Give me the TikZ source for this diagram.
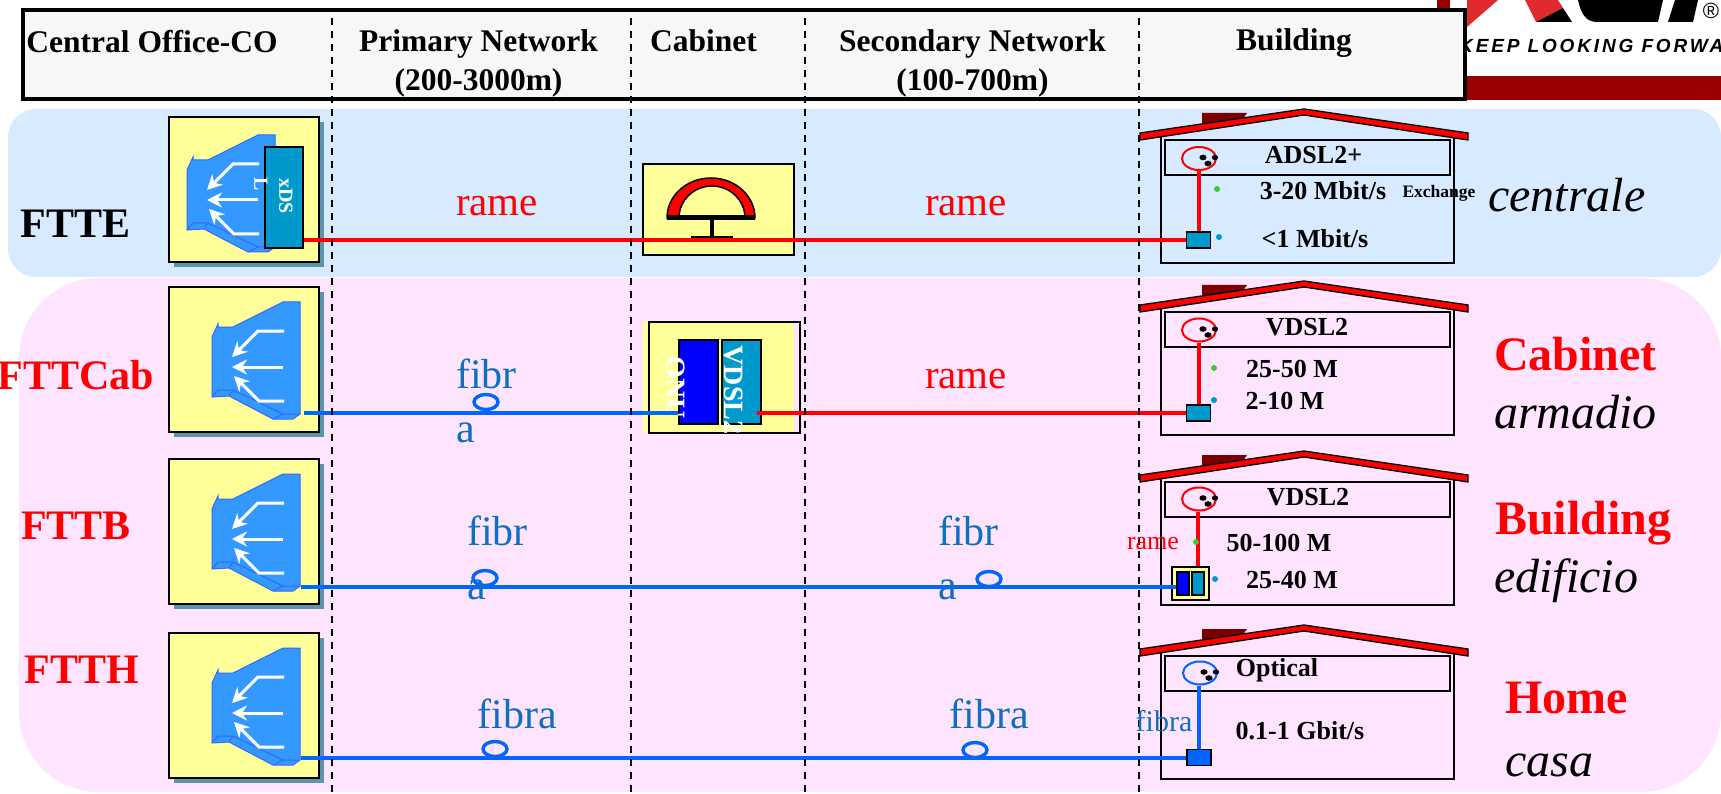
\documentclass[tikz,border=0pt]{standalone}
\usepackage{fontspec}
\setmainfont{Liberation Serif}
\newfontfamily\logofont[LetterSpace=15]{Liberation Sans}
\usetikzlibrary{shapes.geometric, shadows, arrows.meta}

\definecolor{bandblue}{HTML}{D8EAFF}
\definecolor{bandpink}{HTML}{FEE4FF}
\definecolor{boxyellow}{HTML}{FFFF99}
\definecolor{funnelblue}{HTML}{3399FF}
\definecolor{funneledge}{HTML}{3366FF}
\definecolor{teal2}{HTML}{0099CC}
\definecolor{shadowteal}{HTML}{5B94AC}
\definecolor{fibreline}{HTML}{0066FF}
\definecolor{fibretext}{HTML}{0F70C0}
\definecolor{logored}{HTML}{990000}
\definecolor{logobright}{HTML}{E02A2E}
\definecolor{roofred}{HTML}{7A0000}
\definecolor{dotgreen}{HTML}{33CC33}

\tikzset{
    headtext/.style={font=\bfseries\fontsize{31.5}{39}\selectfont, align=center, inner sep=0pt},
    rowlabel/.style={font=\bfseries\fontsize{42}{42}\selectfont, red, inner sep=0pt},
    placered/.style={font=\bfseries\fontsize{48}{48}\selectfont, red, inner sep=0pt, anchor=west},
    placeit/.style={font=\itshape\fontsize{48}{48}\selectfont, inner sep=0pt, anchor=west},
    rate/.style={font=\bfseries\fontsize{26}{26}\selectfont, inner sep=0pt},
    coppertext/.style={font=\fontsize{41}{41}\selectfont, red, inner sep=0pt},
    fibrtext/.style={font=\fontsize{42}{54}\selectfont, fibretext, inner sep=0pt, align=left},
    copper/.style={red, line width=4pt},
    fibre/.style={fibreline, line width=4pt},
    loopring/.style={ellipse, draw=fibreline, line width=3.4pt, minimum width=24pt, minimum height=15pt, inner sep=0pt},
    cobox/.style={draw=black, line width=2pt, fill=boxyellow, minimum width=150pt, minimum height=145pt, inner sep=0pt,
        drop shadow={shadow xshift=5pt, shadow yshift=-5pt, fill=shadowteal, opacity=1}},
    modem/.style={draw=black, line width=2.2pt, minimum width=39pt, minimum height=84pt, inner sep=0pt},
    port/.style={draw=black, line width=1.5pt, minimum width=24pt, minimum height=16pt, inner sep=0pt},
    minibox/.style={draw=black, line width=2.4pt, minimum width=12pt, minimum height=23pt, inner sep=0pt},
    dotmark/.style={circle, minimum size=6pt, inner sep=0pt},
    boundary/.style={black, line width=2pt, dash pattern=on 7pt off 6pt},
    whitearrow/.style={white, line width=3pt, -{Stealth[length=15pt, width=15pt, inset=5pt]}},
    funnel/.pic={
        \draw[funneledge, fill=funnelblue, line width=1pt] (6,22) -- (6,25) -- (21,25) -- (71,0) -- (88,0) -- (88,112)
            -- (81,117) -- (61,117) -- (17,94) -- (0,95) -- (0,35) -- cycle;
        \draw[funneledge, line width=1pt] (0,95) -- (6,88) -- (21,88) -- (71,112) -- (88,112);
        \draw[funneledge, line width=1pt] (17,94) -- (21,88);
        \draw[funneledge, line width=1pt] (61,117) -- (71,112);
        \draw[whitearrow] (72,29) -- (46,29) -- (20,55);
        \draw[whitearrow] (71,65) -- (20,65);
        \draw[whitearrow] (72,99) -- (47,99) -- (22,74);
    },
    house/.pic={
        \fill[roofred] (1202,113) -- (1247,113) -- (1242,120) -- (1202,127) -- cycle;
        \draw[black, line width=1.5pt] (1161,131) -- (1161,263) -- (1454,263) -- (1454,131);
        \draw[black, fill=red, line width=1.3pt] (1140,133) -- (1304,109) -- (1468,133) -- (1468,140) -- (1304,115) -- (1140,140) -- cycle;
        \node[draw=black, line width=1.5pt, minimum width=285pt, minimum height=35pt, inner sep=0pt] (-label) at (1307.5,157.5) {};
    },
    jack/.pic={
        \node[ellipse, draw=#1, line width=2pt, minimum width=34pt, minimum height=23pt, inner sep=0pt] (-ring) at (0,0) {};
        \fill[black] (4,-1) ellipse (3.6 and 2.8);
        \fill[black] (16,-1) ellipse (3.2 and 2.6);
        \fill[black] (9,5) ellipse (3.6 and 2.8);
    },
}

\begin{document}
\begin{tikzpicture}[x=1pt, y=-1pt]
    \useasboundingbox (0,0) rectangle (1721,794);
    \fill[white] (0,0) rectangle (1721,794);

    % Logo behind the header
    \fill[logored] (1437,0) rectangle (1450,12);
    \fill[logored] (1466,76) rectangle (1721,100);
    \fill[logobright] (1467,27) -- (1467,0) -- (1498,0) -- cycle;
    \fill[logobright] (1525,0) -- (1536,22) -- (1563,8) -- (1558,0) -- cycle;
    \fill[black] (1536,22) -- (1563,8) -- (1572,22) -- cycle;
    \fill[black] (1578,0) .. controls (1581,14) and (1586,22) .. (1597,22) -- (1658,22) -- (1663,0) -- cycle;
    \fill[black] (1668,22) -- (1693,22) -- (1698,0) -- (1675,0) -- cycle;
    \node[font=\logofont\fontsize{22}{22}\selectfont, inner sep=0pt] (regmark) at (1711,11) {®};
    \node[font=\logofont\bfseries\itshape\fontsize{19}{19}\selectfont, inner sep=0pt, anchor=west] (slogan) at (1459,46) {KEEP LOOKING FORWA};

    % Bands
    \fill[bandblue, rounded corners=28pt] (8,109) rectangle (1721,277);
    \fill[bandpink, rounded corners=80pt] (19,278) rectangle (1721,792);

    % Header
    \node[draw=black, fill=black!3, line width=4pt, minimum width=1442pt, minimum height=89pt, inner sep=0pt] (header) at (744,54.5) {};
    \node[headtext] (hco) at (152,42) {Central Office-CO};
    \node[headtext, anchor=north] (hprim) at (478.5,29) {Primary Network\\(200-3000m)};
    \node[headtext] (hcab) at (703.5,41) {Cabinet};
    \node[headtext, anchor=north] (hsec) at (972.5,29) {Secondary Network\\(100-700m)};
    \node[headtext] (hbuild) at (1294,43) {Building};

    % Central office boxes
    \node[cobox] (co1) at (243.6,190) {};
    \node[cobox] (co2) at (243.6,359.5) {};
    \node[cobox] (co3) at (243.6,531.5) {};
    \node[cobox] (co4) at (243.6,705.5) {};
    \pic at (187,135) {funnel};
    \pic at (212,302) {funnel};
    \pic at (212,474) {funnel};
    \pic at (212,648) {funnel};

    \node[modem, fill=teal2, minimum width=38pt, minimum height=101pt] (xdsbox) at (284,197.5) {};
    \node[font=\bfseries\fontsize{20}{20}\selectfont, white, rotate=-90, inner sep=0pt] (xdstext) at (286,196) {xDS};
    \node[font=\bfseries\fontsize{20}{20}\selectfont, white, rotate=-90, inner sep=0pt] (ltext) at (261,184) {L};

    % Cabinets
    \fill[boxyellow] (643,322) rectangle (794,433);
    \node[draw=black, line width=1.5pt, minimum width=151pt, minimum height=111pt, inner sep=0pt] (cab2) at (724.5,377.5) {};
    \node[draw=black, fill=boxyellow, line width=1.5pt, minimum width=151pt, minimum height=91pt, inner sep=0pt] (cab1) at (718.5,209.5) {};
    \draw[black, fill=red, line width=1.5pt] (667,218) arc[start angle=180, end angle=360, x radius=44, y radius=40]
        -- (745,218) arc[start angle=360, end angle=180, x radius=33, y radius=32] -- cycle;
    \fill[black] (667,215) rectangle (755,220);
    \fill[black] (710,219) rectangle (714,237);
    \fill[black] (691,236) rectangle (733,239);

    \node[modem, fill=blue] (onubox) at (698.5,382) {};
    \node[modem, fill=teal2] (vdslbox) at (741.5,382) {};
    \node[font=\bfseries\fontsize{28}{28}\selectfont, white, rotate=-90, inner sep=0pt] (onutext) at (675.5,388) {ONU};
    \node[font=\bfseries\fontsize{28}{28}\selectfont, white, rotate=-90, inner sep=0pt] (vdsltext) at (734,390) {VDSL2};

    % Houses
    \pic (h1) at (0,0) {house};
    \pic (h2) at (0,172) {house};
    \pic (h3) at (0,342) {house};
    \pic (h4) at (0,516) {house};
    \pic (j1) at (1199,158.5) {jack=red};
    \pic (j2) at (1199,330) {jack=red};
    \pic (j3) at (1199,499) {jack=red};
    \pic (j4) at (1200,673) {jack=fibreline};

    % Ports
    \node[port, fill=teal2] (p1) at (1198.5,240) {};
    \node[port, fill=teal2] (p2) at (1198.5,413) {};
    \node[draw=black, fill=boxyellow, line width=2.4pt, minimum width=37pt, minimum height=33pt, inner sep=0pt] (p3) at (1190.5,583.5) {};
    \node[minibox, fill=blue] (p3a) at (1183,583.5) {};
    \node[minibox, fill=teal2] (p3b) at (1198,583.5) {};
    \node[port, fill=fibreline] (p4) at (1199,757.5) {};

    % Link ends
    \coordinate (s2) at (304,413);
    \coordinate (s2b) at (757,413);
    \coordinate (s3) at (301,587);
    \coordinate (s4) at (301,757.5);

    % Links
    \draw[copper] (xdsbox.east |- p1) -- (p1);
    \draw[copper] (s2b) -- (p2);
    \draw[fibre] (s2) -- (onubox.west |- s2);
    \draw[fibre] (s3) -- (p3a.west |- s3);
    \draw[fibre] (s4) -- (p4);
    \draw[copper] (p1 |- j1-ring.south) -- (p1.north);
    \draw[copper] (p2 |- j2-ring.south) -- (p2.north);
    \draw[copper] (p3b |- j3-ring.south) -- (p3.north -| p3b);
    \draw[fibre] (p4 |- j4-ring.south) -- (p4.north);

    % Fibre rings
    \node[loopring] (r2) at (486,402) {};
    \node[loopring] (r3a) at (485,578) {};
    \node[loopring] (r3b) at (989,579) {};
    \node[loopring] (r4a) at (495,749) {};
    \node[loopring] (r4b) at (975,750) {};

    % Boundaries
    \coordinate (b1t) at (332,18);
    \coordinate (b1b) at (332,794);
    \coordinate (b2t) at (631,18);
    \coordinate (b2b) at (631,794);
    \coordinate (b3t) at (805,18);
    \coordinate (b3b) at (805,794);
    \coordinate (b4t) at (1139,18);
    \coordinate (b4b) at (1139,794);
    \draw[boundary] (b1t) -- (b1b);
    \draw[boundary] (b2t) -- (b2b);
    \draw[boundary] (b3t) -- (b3b);
    \draw[boundary] (b4t) -- (b4b);

    % Row labels
    \node[font=\bfseries\fontsize{42}{42}\selectfont, inner sep=0pt] (fe) at (75.5,224) {FTTE};
    \node[rowlabel] (fcab) at (76,375) {FTTCab};
    \node[rowlabel] (fb) at (76,526) {FTTB};
    \node[rowlabel] (fh) at (82,670) {FTTH};

    % Line media
    \node[coppertext] (m1a) at (497,206) {rame};
    \node[coppertext] (m1b) at (966,206) {rame};
    \node[coppertext] (m2b) at (966,379) {rame};
    \node[fibrtext, anchor=west] (m2a) at (456,401) {fibr\\a};
    \node[fibrtext, anchor=west] (m3a) at (467,558) {fibr\\a};
    \node[fibrtext, anchor=west] (m3b) at (938,558) {fibr\\a};
    \node[fibrtext] (m4a) at (517,714) {fibra};
    \node[fibrtext] (m4b) at (989,714) {fibra};
    \node[font=\fontsize{26}{26}\selectfont, red, inner sep=0pt] (m3c) at (1153,543) {rame};
    \node[font=\fontsize{30}{30}\selectfont, fibretext, inner sep=0pt] (m4c) at (1164,721) {fibra};

    % House texts
    \node[rate] (t1) at (1313.5,155) {ADSL2+};
    \node[rate] (t2) at (1323,191) {3-20 Mbit/s};
    \node[rate] (t3) at (1315,239) {<1 Mbit/s};
    \node[font=\bfseries\fontsize{17.5}{17.5}\selectfont, inner sep=0pt] (t4) at (1439,193) {Exchange};
    \node[rate] (t5) at (1307,327) {VDSL2};
    \node[rate] (t6) at (1292,369) {25-50 M};
    \node[rate] (t7) at (1285,401) {2-10 M};
    \node[rate] (t8) at (1308,497) {VDSL2};
    \node[rate] (t9) at (1279,543) {50-100 M};
    \node[rate] (t10) at (1292,580) {25-40 M};
    \node[rate] (t11) at (1277,670) {Optical};
    \node[rate] (t12) at (1300,731) {0.1-1 Gbit/s};

    % Dots
    \node[dotmark, fill=dotgreen] (d1) at (1217,189) {};
    \node[dotmark, fill=teal2] (d2) at (1219,237) {};
    \node[dotmark, fill=dotgreen] (d3) at (1214,368) {};
    \node[dotmark, fill=teal2] (d4) at (1214,400) {};
    \node[dotmark, fill=dotgreen] (d5) at (1196,542) {};
    \node[dotmark, fill=teal2] (d6) at (1215,579) {};

    % Place names
    \node[placeit] (c1) at (1488,195) {centrale};
    \node[placered] (c2) at (1494,354) {Cabinet};
    \node[placeit] (c3) at (1494,412) {armadio};
    \node[placered] (c4) at (1495,523) {Building};
    \node[placeit] (c5) at (1494,581) {edificio};
    \node[placered] (c6) at (1505,698) {Home};
    \node[placeit] (c7) at (1505,765) {casa};
\end{tikzpicture}
\end{document}
